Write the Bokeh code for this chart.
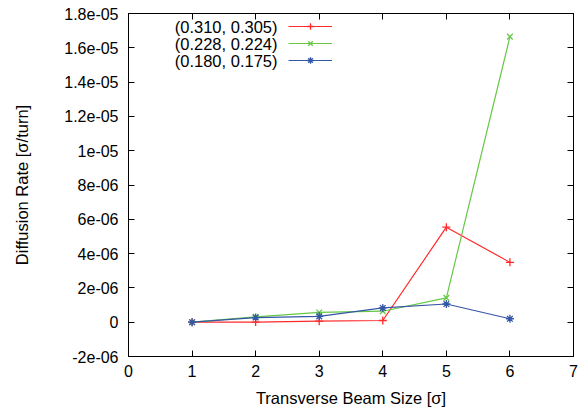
from bokeh.plotting import figure
from bokeh.models import (LinearAxis, FixedTicker, Range1d, Legend, LegendItem, Label)
from bokeh.embed import file_html
from bokeh.resources import INLINE

# ---- data ----
beam_size = [1, 2, 3, 4, 5, 6]
rate_310 = [0.0, 0.01e-6, 0.06e-6, 0.1e-6, 5.54e-6, 3.49e-6]
rate_228 = [0.0, 0.31e-6, 0.57e-6, 0.64e-6, 1.42e-6, 16.65e-6]
rate_180 = [0.0, 0.27e-6, 0.34e-6, 0.83e-6, 1.06e-6, 0.2e-6]
series_labels = ["(0.310, 0.305)", "(0.228, 0.224)", "(0.180, 0.175)"]

x_ticks = [0, 1, 2, 3, 4, 5, 6, 7]
y_ticks = [-2e-06, 0.0, 2e-06, 4e-06, 6e-06, 8e-06, 1e-05, 1.2e-05, 1.4e-05, 1.6e-05, 1.8e-05]
y_tick_labels = ["-2e-06", "0", "2e-06", "4e-06", "6e-06", "8e-06", "1e-05",
                 "1.2e-05", "1.4e-05", "1.6e-05", "1.8e-05"]

FONT = "Liberation Sans"
FS = "16px"

p = figure(width=580, height=412, output_backend="svg", toolbar_location=None,
           x_range=Range1d(0, 7), y_range=Range1d(-2e-06, 1.8e-05),
           min_border_left=128, min_border_right=7, min_border_top=13, min_border_bottom=56)
p.grid.visible = False
p.outline_line_color = "black"
p.outline_line_width = 1
p.background_fill_color = "white"
p.border_fill_color = "white"

xax = p.xaxis[0]
yax = p.yaxis[0]
xax.ticker = FixedTicker(ticks=x_ticks)
yax.ticker = FixedTicker(ticks=y_ticks)
yax.major_label_overrides = dict(zip(y_ticks, y_tick_labels))
for ax in (xax, yax):
    ax.major_tick_in = 6
    ax.major_tick_out = 0
    ax.minor_tick_in = 0
    ax.minor_tick_out = 0
    ax.axis_line_color = "black"
    ax.major_tick_line_color = "black"
    ax.major_label_text_font = FONT
    ax.major_label_text_font_size = FS
    ax.major_label_text_color = "black"
    ax.axis_label_text_font = FONT
    ax.axis_label_text_font_size = "16.5px"
    ax.axis_label_text_font_style = "normal"
    ax.axis_label_text_color = "black"
xax.axis_label = "Transverse Beam Size [σ]"
yax.axis_label = "Diffusion Rate [σ/turn]"
xax.major_label_standoff = 8
yax.major_label_standoff = 10
xax.axis_label_standoff = 9
yax.axis_label_standoff = 30

# mirrored ticks
top = LinearAxis(ticker=FixedTicker(ticks=x_ticks), major_label_text_font_size="0px",
                 major_tick_in=6, major_tick_out=0, minor_tick_in=0, minor_tick_out=0,
                 major_label_standoff=0)
right = LinearAxis(ticker=FixedTicker(ticks=y_ticks), major_label_text_font_size="0px",
                   major_tick_in=6, major_tick_out=0, minor_tick_in=0, minor_tick_out=0,
                   major_label_standoff=0)
top.major_label_overrides = {t: "" for t in x_ticks}
right.major_label_overrides = {t: "" for t in y_ticks}
p.add_layout(top, "above")
p.add_layout(right, "right")

colors = ["#ff2a2a", "#66c844", "#3456a6"]
markers = ["cross", "x", "asterisk"]
items = []
for ys, c, m in zip([rate_310, rate_228, rate_180], colors, markers):
    l = p.line(beam_size, ys, line_color=c, line_width=1.2)
    s = p.scatter(beam_size, ys, marker=m, size=8, line_color=c, line_width=1.3)
    items.append(LegendItem(label=" ", renderers=[l, s]))

leg = Legend(items=items, location=(160, 288), glyph_width=44, glyph_height=16,
             label_width=0, label_standoff=0, padding=0, spacing=1, margin=0,
             label_text_font_size="1px", border_line_alpha=0, background_fill_alpha=0)
p.add_layout(leg, "center")

for i, txt in enumerate(series_labels):
    p.add_layout(Label(x=149, y=330 - 17 * i, x_units="screen", y_units="screen", text=txt,
                       text_align="right", text_baseline="middle", text_font=FONT,
                       text_font_size="16.5px", text_color="black"))

open("out.html", "w").write(file_html(p, INLINE))
